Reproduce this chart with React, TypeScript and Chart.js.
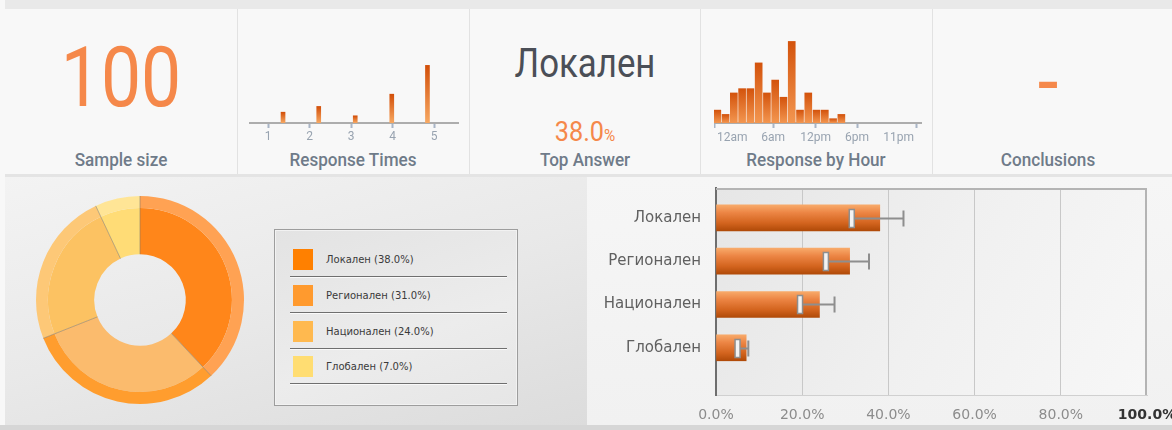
import React, { useEffect, useRef } from 'react';
import { Chart, registerables } from 'chart.js';

Chart.register(...registerables);

// ---------------- data ----------------
const SAMPLE_SIZE = '100';
const TOP_ANSWER = 'Локален';
const TOP_ANSWER_SHARE = '38.0';
const CONCLUSIONS = '-';
const PANEL_TITLES = ['Sample size', 'Response Times', 'Top Answer', 'Response by Hour', 'Conclusions'];

const RESPONSE_TIME_X = [1.36, 2.22, 3.1, 3.98, 4.84];
const RESPONSE_TIME_COUNTS = [3, 4.6, 2, 8, 16];
const RESPONSE_TIME_TICKS = [1, 2, 3, 4, 5];

const HOUR_SLOTS = [0, 1, 2, 3, 4, 5, 6, 7, 8, 9, 10, 11, 12, 13, 14, 15];
const HOUR_COUNTS = [3, 2, 7, 8, 8, 14, 7, 10, 6, 19, 3, 7, 3, 3, 1, 2];
const HOUR_TICK_POS = [-0.3, 6.75, 11.9, 16.9, 24.1];
const HOUR_TICK_LABELS = ['12am', '6am', '12pm', '6pm', '11pm'];

const ANSWERS = ['Локален', 'Регионален', 'Национален', 'Глобален'];
const ANSWER_SHARES = [38, 31, 24, 7];
const CI_LOW = [31.5, 25.5, 19.5, 5];
const CI_HIGH = [43.5, 35.5, 27.5, 7.5];
const PERCENT_TICKS = [0, 20, 40, 60, 80, 100];

// ---------------- styles ----------------
const ROBOTO = 'Roboto, "Noto Sans", sans-serif';
const VERDANA = '"DejaVu Sans", Verdana, sans-serif';
const ORANGE_TEXT = '#f5884a';
const TITLE_COLOR = '#6f7b89';
const FACE_COLORS = ['#ff861a', '#fbbb6d', '#fcc262', '#ffdc76'];
const RIM_COLORS = ['#ffa253', '#ff9d2e', '#fdc877', '#ffe596'];
const LEGEND_COLORS = ['#ff8000', '#ff9a2e', '#ffb94f', '#ffdd72'];

const vGrad = (top: string, bottom: string) => (c: any) => {
  if (c.type !== 'data' || !c.chart.scales || !c.chart.scales.y) return top;
  const ys = c.chart.scales.y;
  const t = ys.getPixelForValue(c.parsed.y);
  const b = ys.getPixelForValue(0);
  if (!isFinite(t) || !isFinite(b) || t === b) return top;
  const g = c.chart.ctx.createLinearGradient(0, t, 0, b);
  g.addColorStop(0, top);
  g.addColorStop(1, bottom);
  return g;
};

function useChart(ref: React.RefObject<HTMLCanvasElement>, make: () => any) {
  useEffect(() => {
    if (!ref.current) return;
    const chart = new Chart(ref.current, make());
    return () => chart.destroy();
  }, []);
}

const smallAxis = {
  offset: false,
  grid: { display: true, offset: false, drawOnChartArea: false, drawTicks: true, tickLength: 5, tickColor: '#a9b5c6', tickWidth: 2 },
  border: { display: true, color: '#adadad', width: 2 },
};

function ResponseTimes() {
  const ref = useRef<HTMLCanvasElement>(null);
  useChart(ref, () => ({
    type: 'bar',
    data: {
      datasets: [{
        data: RESPONSE_TIME_X.map((x, i) => ({ x, y: RESPONSE_TIME_COUNTS[i] })),
        backgroundColor: vGrad('#d24f09', '#f7a862'),
        barThickness: 4,
        borderWidth: 0,
      }],
    },
    options: {
      responsive: false, animation: false, events: [],
      layout: { padding: 0 },
      plugins: { legend: { display: false }, tooltip: { enabled: false } },
      scales: {
        x: {
          type: 'linear', min: 0.54, max: 5.6,
          afterBuildTicks: (s: any) => { s.ticks = RESPONSE_TIME_TICKS.map((v) => ({ value: v })); },
          afterFit: (s: any) => { s.height = 22; s.paddingLeft = 0; s.paddingRight = 0; },
          ...smallAxis,
          ticks: { color: '#98a3b0', font: { family: ROBOTO, size: 12 }, padding: 2, autoSkip: false, maxRotation: 0 },
        },
        y: { display: false, min: 0, max: 23.6 },
      },
    },
  }));
  return <canvas ref={ref} width={210} height={107} style={{ position: 'absolute', left: 249, top: 38, width: 210, height: 107 }} />;
}

const hourLabels = {
  id: 'hourLabels',
  afterDraw(chart: any) {
    const { ctx, chartArea, scales } = chart;
    ctx.save();
    ctx.font = `12px ${ROBOTO}`;
    ctx.fillStyle = '#98a3b0';
    ctx.textBaseline = 'middle';
    ctx.textAlign = 'left';
    HOUR_TICK_POS.forEach((p, i) => {
      const label = HOUR_TICK_LABELS[i];
      const w = ctx.measureText(label).width;
      let x = scales.x.getPixelForValue(p) - w / 2;
      x = Math.max(chartArea.left + 3, Math.min(x, chartArea.right - 8 - w));
      ctx.fillText(label, x, chartArea.bottom + 15);
    });
    ctx.restore();
  },
};

function ResponseByHour() {
  const ref = useRef<HTMLCanvasElement>(null);
  useChart(ref, () => ({
    type: 'bar',
    data: {
      datasets: [{
        data: HOUR_SLOTS.map((x, i) => ({ x, y: HOUR_COUNTS[i] })),
        backgroundColor: vGrad('#d3530c', '#f39650'),
        barThickness: 7,
        borderWidth: 0,
      }],
    },
    options: {
      responsive: false, animation: false, events: [],
      layout: { padding: 0 },
      plugins: { legend: { display: false }, tooltip: { enabled: false } },
      scales: {
        x: {
          type: 'linear', min: -0.4, max: 24.75,
          afterBuildTicks: (s: any) => { s.ticks = HOUR_TICK_POS.map((v) => ({ value: v })); },
          afterFit: (s: any) => { s.height = 22; s.paddingLeft = 0; s.paddingRight = 0; },
          ...smallAxis,
          ticks: { display: false, autoSkip: false },
        },
        y: { display: false, min: 0, max: 19.8 },
      },
    },
    plugins: [hourLabels],
  }));
  return <canvas ref={ref} width={208} height={107} style={{ position: 'absolute', left: 714, top: 38, width: 208, height: 107 }} />;
}

const donutSeparators = {
  id: 'donutSeparators',
  afterDatasetsDraw(chart: any) {
    const rim = chart.getDatasetMeta(0);
    const face = chart.getDatasetMeta(1);
    const ctx = chart.ctx;
    ctx.save();
    ctx.strokeStyle = 'rgba(130,120,105,0.55)';
    ctx.lineWidth = 1;
    face.data.forEach((arc: any, i: number) => {
      const a = arc.startAngle;
      const r0 = arc.innerRadius;
      const r1 = rim.data[i].outerRadius;
      ctx.beginPath();
      ctx.moveTo(arc.x + Math.cos(a) * r0, arc.y + Math.sin(a) * r0);
      ctx.lineTo(arc.x + Math.cos(a) * r1, arc.y + Math.sin(a) * r1);
      ctx.stroke();
    });
    ctx.restore();
  },
};

function Donut() {
  const ref = useRef<HTMLCanvasElement>(null);
  useChart(ref, () => ({
    type: 'doughnut',
    data: {
      labels: ANSWERS,
      datasets: [
        { data: ANSWER_SHARES, backgroundColor: RIM_COLORS, borderWidth: 0, weight: 12 },
        { data: ANSWER_SHARES, backgroundColor: FACE_COLORS, borderWidth: 0, weight: 46 },
      ],
    },
    options: {
      responsive: false, animation: false, events: [],
      cutout: '44%',
      layout: { padding: 6 },
      plugins: { legend: { display: false }, tooltip: { enabled: false } },
    },
    plugins: [donutSeparators],
  }));
  return <canvas ref={ref} width={220} height={220} style={{ position: 'absolute', left: 30, top: 190, width: 220, height: 220 }} />;
}

const plotDecor = {
  id: 'plotDecor',
  beforeDraw(chart: any) {
    const { ctx, chartArea: a } = chart;
    ctx.save();
    const g = ctx.createLinearGradient(a.left, a.top, a.right, a.bottom);
    g.addColorStop(0, '#e6e6e6');
    g.addColorStop(0.5, '#f0f0f0');
    g.addColorStop(1, '#f7f7f7');
    ctx.fillStyle = g;
    ctx.fillRect(a.left, a.top, a.right - a.left, a.bottom - a.top);
    ctx.restore();
  },
  beforeDatasetsDraw(chart: any) {
    const { ctx, chartArea: a } = chart;
    ctx.save();
    ctx.strokeStyle = '#b4b4b4';
    ctx.lineWidth = 2;
    ctx.beginPath();
    ctx.moveTo(a.left, a.top + 1);
    ctx.lineTo(a.right - 1, a.top + 1);
    ctx.lineTo(a.right - 1, a.bottom);
    ctx.stroke();
    ctx.restore();
  },
  afterDatasetsDraw(chart: any) {
    const { ctx, scales } = chart;
    ctx.save();
    ANSWERS.forEach((_, i) => {
      const y = Math.round(scales.y.getPixelForValue(i)) + 0.5;
      const xl = scales.x.getPixelForValue(CI_LOW[i]);
      const xh = scales.x.getPixelForValue(CI_HIGH[i]);
      ctx.strokeStyle = '#8e8e8e';
      ctx.lineWidth = 2;
      ctx.beginPath();
      ctx.moveTo(xl, y);
      ctx.lineTo(xh, y);
      ctx.moveTo(xh, y - 8);
      ctx.lineTo(xh, y + 8);
      ctx.stroke();
      ctx.fillStyle = '#f3f3f3';
      ctx.lineWidth = 1.5;
      ctx.fillRect(xl - 2.5, y - 9, 5, 18);
      ctx.strokeRect(xl - 2.5, y - 9, 5, 18);
    });
    ctx.restore();
  },
};

function AnswerBars() {
  const ref = useRef<HTMLCanvasElement>(null);
  useChart(ref, () => ({
    type: 'bar',
    data: {
      datasets: [{
        data: ANSWER_SHARES.map((x, i) => ({ x, y: i })),
        barThickness: 26,
        borderWidth: 0,
        backgroundColor: (c: any) => {
          if (c.type !== 'data' || !c.chart.scales || !c.chart.scales.y) return '#e07030';
          const yc = c.chart.scales.y.getPixelForValue(c.parsed.y);
          if (!isFinite(yc)) return '#e07030';
          const g = c.chart.ctx.createLinearGradient(0, yc - 13, 0, yc + 13);
          g.addColorStop(0, '#f8aa6a');
          g.addColorStop(0.3, '#ec8544');
          g.addColorStop(0.7, '#d3641e');
          g.addColorStop(1, '#b04a08');
          return g;
        },
      }],
    },
    options: {
      indexAxis: 'y',
      responsive: false, animation: false, events: [],
      layout: { padding: { top: 8, right: 25, left: 0, bottom: 0 } },
      plugins: { legend: { display: false }, tooltip: { enabled: false } },
      scales: {
        x: {
          type: 'linear', min: 0, max: 100, offset: false,
          afterBuildTicks: (s: any) => { s.ticks = PERCENT_TICKS.map((v) => ({ value: v })); },
          afterFit: (s: any) => { s.height = 30; s.paddingLeft = 0; s.paddingRight = 0; },
          grid: {
            drawTicks: false,
            offset: false,
            lineWidth: 1,
            color: (c: any) => (c.tick && (c.tick.value === 0 || c.tick.value === 100) ? 'rgba(0,0,0,0)' : '#c8c8c8'),
          },
          border: { display: true, color: '#d0d0d0', width: 1 },
          ticks: {
            padding: 12, autoSkip: false, maxRotation: 0,
            callback: (v: any) => Number(v).toFixed(1) + '%',
            color: (c: any) => (c.tick && c.tick.value === 100 ? '#333333' : '#8c8c8c'),
            font: (c: any) => ({ family: VERDANA, size: 14, weight: c.tick && c.tick.value === 100 ? 'bold' : 'normal' }),
          },
        },
        y: {
          type: 'linear', reverse: true, min: -0.69, max: 4.09, offset: false,
          afterBuildTicks: (s: any) => { s.ticks = ANSWERS.map((_, i) => ({ value: i })); },
          afterFit: (s: any) => { s.width = 129; s.paddingTop = 0; s.paddingBottom = 0; },
          grid: { display: false, drawTicks: false, offset: false },
          border: { display: true, color: '#6e6e6e', width: 2 },
          ticks: {
            padding: 15, autoSkip: false,
            callback: (v: any) => ANSWERS[v] ?? '',
            color: '#606060',
            font: { family: VERDANA, size: 15 },
          },
        },
      },
    },
    plugins: [plotDecor],
  }));
  return <canvas ref={ref} width={585} height={245} style={{ position: 'absolute', left: 587, top: 180, width: 585, height: 245 }} />;
}

const abs = (o: any) => ({ position: 'absolute' as const, ...o });

function Centered({ x, y, size, color, scale = 1, children, weight = 400 }: any) {
  return (
    <div style={abs({
      left: x, top: y, fontFamily: ROBOTO, fontSize: size, lineHeight: 1, color, fontWeight: weight,
      whiteSpace: 'nowrap', transform: `translate(-50%, -50%) scaleX(${scale})`,
    })}>{children}</div>
  );
}

function Legend() {
  const rows = [259, 295, 331, 366];
  return (
    <div style={abs({
      left: 274, top: 229, width: 242, height: 175, border: '1px solid #9d9d9d',
      boxShadow: 'inset 0 0 0 1px #f2f2f2',
      background: 'linear-gradient(160deg, #e3e3e3 0%, #ececec 60%, #e6e6e6 100%)',
    })}>
      {ANSWERS.map((a, i) => (
        <React.Fragment key={a}>
          <div style={abs({ left: 18, top: rows[i] - 229 - 11, width: 20, height: 21, background: LEGEND_COLORS[i] })} />
          <div style={abs({
            left: 51, top: rows[i] - 229 - 7, fontFamily: VERDANA, fontSize: 10, lineHeight: '14px', color: '#3a3a3a', whiteSpace: 'nowrap',
          })}>{`${a} (${ANSWER_SHARES[i].toFixed(1)}%)`}</div>
          <div style={abs({ left: 15, top: rows[i] - 229 + 16, width: 217, height: 1, background: '#6f6f6f', boxShadow: '0 1px 0 #fafafa' })} />
        </React.Fragment>
      ))}
    </div>
  );
}

export default function App() {
  const centers = [121, 353, 585, 816, 1048];
  return (
    <div style={abs({ left: 0, top: 0, width: 1172, height: 430, background: '#f8f8f8', overflow: 'hidden' })}>
      <div style={abs({ left: 5, top: 0, width: 1167, height: 9, background: '#e9e9e9' })} />
      <div style={abs({ left: 5, top: 9, width: 1160, height: 165, background: '#f8f8f8' })} />
      {[237, 469, 700, 932].map((x) => (
        <div key={x} style={abs({ left: x, top: 9, width: 1, height: 165, background: '#e2e2e2' })} />
      ))}
      <div style={abs({ left: 5, top: 174, width: 1167, height: 3, background: '#e4e4e4' })} />
      <div style={abs({ left: 5, top: 177, width: 582, height: 248, background: 'linear-gradient(165deg, #f3f3f3 0%, #e9e9e9 50%, #dcdcdc 100%)' })} />
      <div style={abs({ left: 587, top: 177, width: 585, height: 248, background: 'linear-gradient(180deg, #f6f6f6 0%, #f1f1f1 100%)' })} />
      <div style={abs({ left: 0, top: 425, width: 1172, height: 5, background: '#d6d6d6' })} />

      <Centered x={centers[0]} y={77} size={83} color={ORANGE_TEXT} scale={0.86}>{SAMPLE_SIZE}</Centered>
      <Centered x={centers[2]} y={64} size={40} color="#4b4f57" scale={0.87}>{TOP_ANSWER}</Centered>
      <Centered x={centers[2]} y={132} size={28} color={ORANGE_TEXT} scale={0.9}>
        {TOP_ANSWER_SHARE}<span style={{ fontSize: 17 }}>%</span>
      </Centered>
      <Centered x={centers[4]} y={81} size={83} color={ORANGE_TEXT} scale={0.9}>{CONCLUSIONS}</Centered>
      {PANEL_TITLES.map((t, i) => (
        <Centered key={t} x={centers[i]} y={160} size={18} color={TITLE_COLOR} scale={0.95} weight={500}>{t}</Centered>
      ))}

      <ResponseTimes />
      <ResponseByHour />
      <Donut />
      <Legend />
      <AnswerBars />
    </div>
  );
}
